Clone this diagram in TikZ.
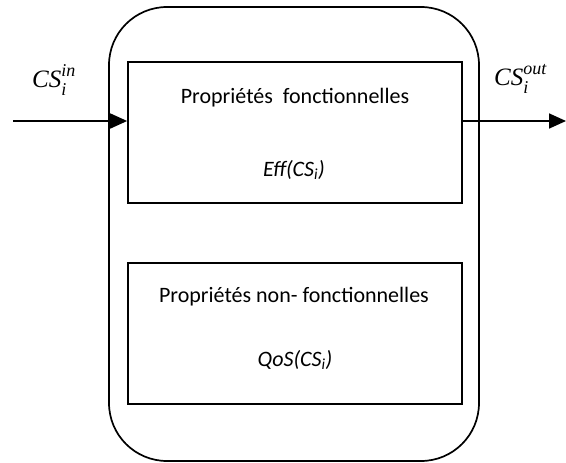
\documentclass[tikz,border=0pt]{standalone}
\usepackage{fontspec}
\setmainfont{Carlito}
\newfontfamily\lblfont{Liberation Serif}
\usetikzlibrary{arrows.meta}
% CS_i with a superscript tag, set in a serif italic
\newcommand{\csidx}[1]{{\lblfont\itshape CS\rlap{\raisebox{0.42em}{\fontsize{18}{18}\selectfont #1}}\raisebox{-0.32em}{\fontsize{18}{18}\selectfont i}}}
\begin{document}
\begin{tikzpicture}[x=1pt,y=-1pt,
  frame/.style={draw,line width=1.7pt},
  propbox/.style={draw,line width=1.7pt,minimum width=334pt,minimum height=141pt,inner sep=0pt},
  label/.style={font=\fontsize{22}{26}\selectfont,inner sep=0pt,anchor=base},
  flow/.style={line width=1.7pt,-{Triangle[length=17pt,width=15pt]}}]
  \useasboundingbox (0,0) rectangle (566,463);
  % component envelope
  \draw[frame,rounded corners=58pt] (109,7) rectangle (479,461);
  % functional and non-functional property boxes
  \node[propbox] (fun) at (295,132.5) {};
  \node[propbox] (nfun) at (295,333.5) {};
  \node[label] (funT) at (295,103) {Propriétés\ \ fonctionnelles};
  \node[label] (funE) at (294,176) {\itshape Eff(CS\textsubscript{i})};
  \node[label] (nfunT) at (294,302) {Propriétés non- fonctionnelles};
  \node[label] (nfunQ) at (295,366) {\itshape QoS(CS\textsubscript{i})};
  % input and output flows
  \coordinate (inL) at (13,121);
  \coordinate (outR) at (566,121);
  \draw[flow] (inL) -- (inL -| fun.west);
  \draw[flow] (fun.east |- outR) -- (outR);
  \node[label,anchor=base west,font=\fontsize{25}{28}\selectfont] (inLab) at (32,87) {\csidx{in}};
  \node[label,anchor=base west,font=\fontsize{25}{28}\selectfont] (outLab) at (494,85) {\csidx{out}};
\end{tikzpicture}
\end{document}
